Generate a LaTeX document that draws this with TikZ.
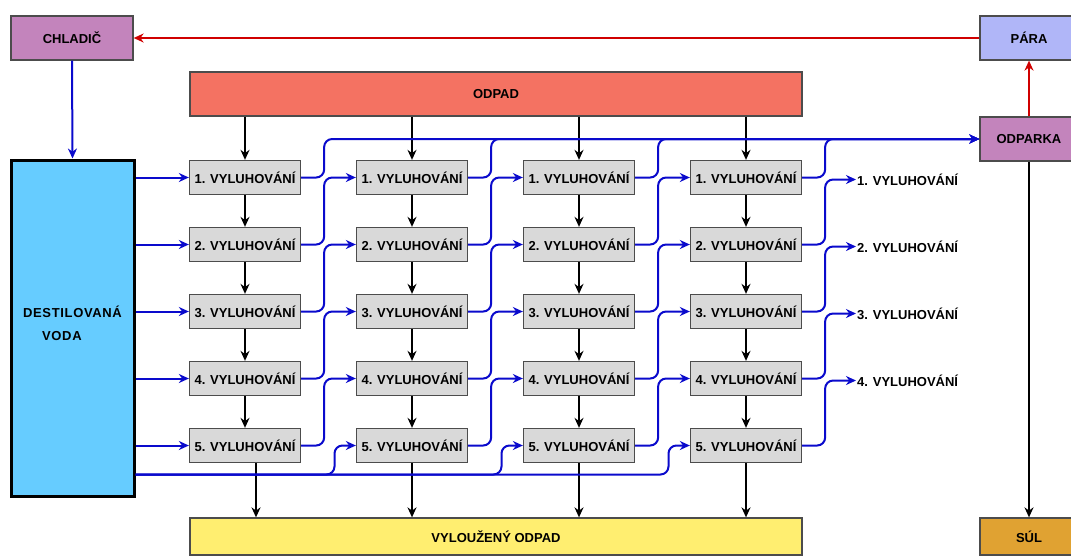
\documentclass[tikz,border=0pt]{standalone}
\usepackage{fontspec}
\setmainfont{Liberation Sans}
\usetikzlibrary{arrows.meta}
\definecolor{fialova}{HTML}{C384BC}
\definecolor{levandule}{HTML}{B0B6F8}
\definecolor{losos}{HTML}{F47262}
\definecolor{azur}{HTML}{66CCFF}
\definecolor{seda}{HTML}{D9D9D9}
\definecolor{zluta}{HTML}{FFEE70}
\definecolor{okr}{HTML}{E0A232}
\definecolor{tok}{HTML}{0A0ACC}
\definecolor{para}{HTML}{D00000}
\tikzset{
  box/.style={draw=black!70, line width=1.3pt, inner sep=0pt, minimum height=44pt,
    font=\fontsize{13}{15}\selectfont\bfseries},
  vyl/.style={box, fill=seda, minimum width=111pt, minimum height=34pt},
  voda/.style={-{Stealth[length=10pt,width=9pt]}, line width=2pt, tok, rounded corners=8pt},
  pad/.style={-{Stealth[length=10pt,width=9pt]}, line width=1.6pt, black},
  parni/.style={-{Stealth[length=10pt,width=9pt]}, line width=1.6pt, para},
  popis/.style={anchor=west, inner sep=1pt, font=\fontsize{13}{15}\selectfont\bfseries},
}
\begin{document}
\begin{tikzpicture}[x=1pt,y=-1pt]
  \useasboundingbox (0,0) rectangle (1071,555);
  % side boxes
  \node[box, fill=fialova, minimum width=122pt] (chladic) at (72,38) {CHLADI\v{C}};
  \node[box, fill=levandule, minimum width=98pt] (para) at (1029,38) {PÁRA};
  \node[box, fill=losos, minimum width=612pt] (odpad) at (496,94) {ODPAD};
  \node[box, fill=fialova, minimum width=98pt] (odparka) at (1029,139) {ODPARKA};
  \node[box, fill=azur, draw=black, line width=3pt, minimum width=123pt, minimum height=336pt] (destil) at (72.5,328) {};
  \node[align=left, inner sep=0pt, font=\fontsize{13}{23}\selectfont\bfseries\addfontfeature{LetterSpace=5}]
    (destiltext) at (72.5,323) {DESTILOVANÁ\\\hspace*{19pt}VODA};
  \node[box, fill=zluta, minimum width=612pt, minimum height=37pt] (vylouzeny) at (496,536.5) {VYLOUŽENÝ ODPAD};
  \node[box, fill=okr, minimum width=98pt, minimum height=37pt] (sul) at (1029,536.5) {SÚL};
  % leaching grid
  \foreach \c/\x in {1/245,2/412,3/579,4/746}{%
    \foreach \r/\y in {1/177.5,2/244.5,3/311.5,4/378.5,5/445.5}{%
      \node[vyl] (c\c\r) at (\x,\y) {\r. VYLUHOVÁNÍ};}}
  \foreach \r/\y in {1/177.5,2/244.5,3/311.5,4/378.5}
    \node[popis] (ven\r) at (856,\y+2) {\r. VYLUHOVÁNÍ};
  % steam and salt
  \draw[parni] (para.west) -- (chladic.east);
  \draw[parni] (odparka.north) -- (para.south);
  \draw[pad] (odparka.south) -- (sul.north);
  \draw[voda] (chladic.south) -- (destil.north);
  % waste down the columns
  \foreach \c in {1,2,3,4}{%
    \draw[pad] (odpad.south -| c\c1.north) -- (c\c1.north);
    \foreach \r/\s in {1/2,2/3,3/4,4/5}
      \draw[pad] (c\c\r.south) -- (c\c\s.north);}
  \draw[pad] ([xshift=11pt]c15.south) -- ([xshift=11pt]c15.south |- vylouzeny.north);
  \foreach \c in {2,3,4}
    \draw[pad] (c\c5.south) -- (c\c5.south |- vylouzeny.north);
  % water into the first column
  \foreach \r in {1,...,5}
    \draw[voda] (destil.east |- c1\r.west) -- (c1\r.west);
  \coordinate (dolni) at ([yshift=23pt]destil.south east);
  \draw[voda] (dolni) -- ++(199,0) |- (c25.west);
  \draw[voda] (dolni) -- ++(366,0) |- (c35.west);
  \draw[voda] (dolni) -- ++(533,0) |- (c45.west);
  % extract moves up one row into the next column
  \foreach \c/\n in {1/2,2/3,3/4}{%
    \draw[voda] (c\c1.east) -- ++(23,0) |- (odparka.west);
    \foreach \r/\s in {2/1,3/2,4/3,5/4}
      \draw[voda] (c\c\r.east) -- ++(23,0) |- (c\n\s.west);}
  \draw[voda] (c41.east) -- ++(23,0) |- (odparka.west);
  \foreach \r/\s in {2/1,3/2,4/3,5/4}
    \draw[voda] (c4\r.east) -- ++(23,0) |- (ven\s.west);
\end{tikzpicture}
\end{document}
